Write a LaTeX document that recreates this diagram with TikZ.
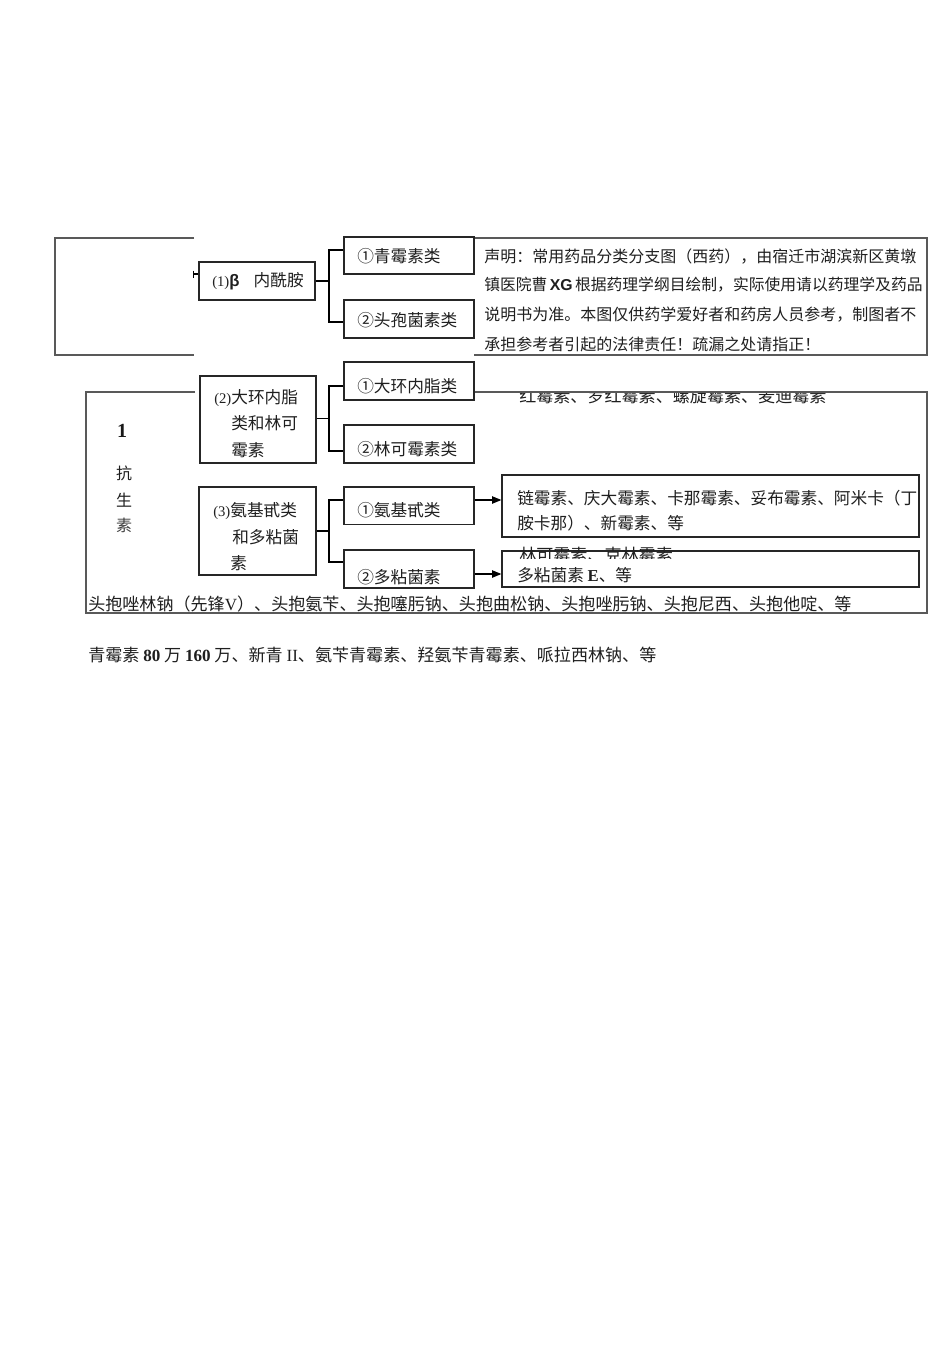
\documentclass[tikz,border=0pt]{standalone}
\usepackage{fontspec}
\setmainfont{Liberation Serif}
\newfontfamily\cjk{Noto Sans CJK SC}
\newfontfamily\arialf{Liberation Sans}
\usetikzlibrary{arrows.meta}
\begin{document}
\begin{tikzpicture}[x=0.75pt,y=-0.75pt,
  sbox/.style={draw=black!85,line width=0.9pt,inner sep=0pt},
  conn/.style={draw=black,line width=1.2pt},
  arr/.style={draw=black,line width=0.9pt,-{Triangle[length=7pt,width=5.5pt]}},
  frame/.style={draw=black!65,line width=0.9pt},
  lbl/.style={inner sep=0pt,anchor=west,text=black!88,font=\cjk\fontsize{12.5}{15}\selectfont},
  wide/.style={font=\cjk\fontsize{12.8}{15}\selectfont},
  decl/.style={inner sep=0pt,anchor=west,text=black!88,font=\cjk\fontsize{12}{14}\selectfont}
]
\useasboundingbox[fill=white] (0,0) rectangle (950,1345);

% ---------- outer frames ----------
\draw[frame] (194,238) -- (55,238) -- (55,355) -- (194,355);
\draw[frame] (474,238) -- (927,238) -- (927,355) -- (474,355);
\draw[frame] (195,392) -- (86,392) -- (86,613) -- (927,613) -- (927,392) -- (474,392);

% ---------- declaration ----------
\node[decl] (d1l) at (484,257) {声明：常用药品分类分支图（西药），由宿迁市湖滨新区黄墩};
\node[decl,font=\cjk\fontsize{11.85}{14}\selectfont] (d2l) at (484,285) {镇医院曹\hspace{0.15em}{\arialf\bfseries XG}\hspace{0.15em}根据药理学纲目绘制，实际使用请以药理学及药品};
\node[decl] (d3l) at (484,315) {说明书为准。本图仅供药学爱好者和药房人员参考，制图者不};
\node[decl] (d4l) at (484,344) {承担参考者引起的法律责任！疏漏之处请指正！};

% ---------- left title ----------
\node[inner sep=0pt,font=\fontsize{15}{17}\bfseries\selectfont,text=black!90] (n1) at (122,431) {1};
\node[lbl,anchor=center,font=\cjk\fontsize{12}{14}\selectfont] (k1) at (124,473) {抗};
\node[lbl,anchor=center,font=\cjk\fontsize{12}{14}\selectfont] (k2) at (124,500) {生};
\node[lbl,anchor=center,font=\cjk\fontsize{12}{14}\selectfont,text=black!75] (k3) at (124,525) {素};

% ---------- group 1 ----------
\node[sbox,minimum width=87pt,minimum height=28.5pt] (b1) at (257,281) {};
\node[lbl] (b1t) at (212,281) {{\rmfamily\fontsize{11}{13}\selectfont(1)}{\arialf\bfseries β}\hspace{0.85em}内酰胺};
\node[sbox,minimum width=97.5pt,minimum height=27.75pt] (p1) at (409,255.5) {};
\node[lbl] (p1t) at (357,256) {①青霉素类};
\node[sbox,minimum width=97.5pt,minimum height=28.5pt] (p2) at (409,319) {};
\node[lbl] (p2t) at (357,320) {②头孢菌素类};
\coordinate (j1) at (329,281);
\draw[conn] (b1.east) -- (j1);
\draw[conn] (p1.west |- 0,250) -| (j1) |- (p2.west |- 0,322);
\coordinate (t1) at (193.5,274);
\draw[conn,line width=0.9pt] (b1.west |- t1) -- (t1);
\draw[conn,line width=0.9pt] (193.5,270.5) -- (193.5,278);

% ---------- group 2 ----------
\node[sbox,minimum width=87pt,minimum height=65.25pt] (b2) at (258,419.5) {};
\node[lbl] (b2a) at (214,398) {{\rmfamily\fontsize{11}{13}\selectfont(2)}大环内脂};
\node[lbl] (b2b) at (231,423) {类和林可};
\node[lbl] (b2c) at (231,450) {霉素};
\node[sbox,minimum width=97.5pt,minimum height=28.5pt] (m1) at (409,381) {};
\node[lbl] (m1t) at (357,386) {①大环内脂类};
\node[sbox,minimum width=97.5pt,minimum height=28.5pt] (m2) at (409,444) {};
\node[lbl] (m2t) at (357,449) {②林可霉素类};
\coordinate (j2) at (329,418.5);
\draw[conn] (b2.east |- j2) -- (j2);
\draw[conn] (m1.west |- 0,386) -| (j2) |- (m2.west |- 0,451);

% clipped text under frame top
\begin{scope}
\clip (500,393) rectangle (900,410);
\node[lbl,wide] (hm) at (519,396) {红霉素、罗红霉素、螺旋霉素、麦迪霉素};
\end{scope}

% ---------- group 3 ----------
\node[sbox,minimum width=87.75pt,minimum height=66pt] (b3) at (257.5,531) {};
\node[lbl] (b3a) at (213,511) {{\rmfamily\fontsize{11}{13}\selectfont(3)}氨基甙类};
\node[lbl] (b3b) at (232,537) {和多粘菌};
\node[lbl] (b3c) at (230,563) {素};
\node[sbox,minimum width=97.5pt,minimum height=28.125pt] (a1) at (409,505.75) {};
\node[lbl] (a1t) at (357,510) {①氨基甙类};
\node[sbox,minimum width=97.5pt,minimum height=28.5pt] (a2) at (409,569) {};
\node[lbl] (a2t) at (357,577) {②多粘菌素};
\coordinate (j3) at (329,531);
\draw[conn] (b3.east |- j3) -- (j3);
\draw[conn] (a1.west |- 0,500) -| (j3) |- (a2.west |- 0,562);

% ---------- drug boxes ----------
\node[sbox,minimum width=312.75pt,minimum height=46.5pt] (e1) at (710.5,506) {};
\node[lbl] (e1a) at (517,498) {链霉素、庆大霉素、卡那霉素、妥布霉素、阿米卡（丁};
\node[lbl] (e1b) at (517,523) {胺卡那）、新霉素、等};
\node[sbox,minimum width=312.75pt,minimum height=27pt] (e2) at (710.5,569) {};
\node[lbl] (e2t) at (517,575) {多粘菌素 {\rmfamily\bfseries E}、等};
\begin{scope}
\clip (505,540) rectangle (900,558);
\node[lbl,wide] (lk) at (519,555) {林可霉素、克林霉素};
\end{scope}
\draw[arr] (a1.east |- 0,500) -- (e1.west |- 0,500);
\draw[arr] (a2.east |- 0,574) -- (e2.west |- 0,574);

% ---------- bottom lines ----------
\node[lbl,wide] (tb) at (88,604) {头抱唑林钠（先锋{\rmfamily V}）、头抱氨苄、头抱噻肟钠、头抱曲松钠、头抱唑肟钠、头抱尼西、头抱他啶、等};
\node[lbl,wide] (qm) at (88,655) {青霉素 {\rmfamily\bfseries 80} 万 {\rmfamily\bfseries 160} 万、新青 {\rmfamily II}、氨苄青霉素、羟氨苄青霉素、哌拉西林钠、等};
\end{tikzpicture}
\end{document}
